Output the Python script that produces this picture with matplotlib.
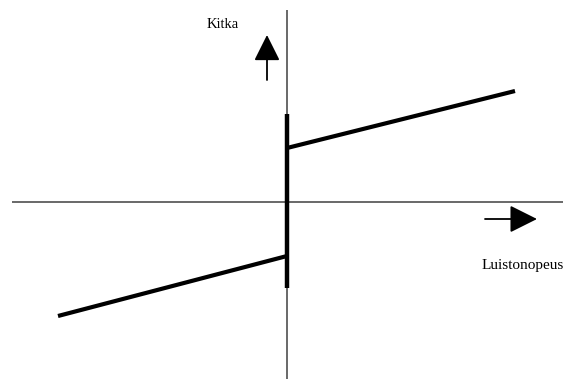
import matplotlib
matplotlib.use("Agg")
import matplotlib.pyplot as plt

# Data (origin at the axes crossing; units arbitrary, y positive up)
speed_neg = [-229, 0]
friction_neg = [-114, -54]
speed_pos = [0, 228]
friction_pos = [54, 111]
static_band = [-86, 88]   # vertical thick segment at zero speed

x_label = "Luistonopeus"
y_label = "Kitka"

fig = plt.figure(figsize=(5.66, 3.79), dpi=100)
ax = fig.add_axes([0, 0, 1, 1])
ox, oy = 287, 202
ax.set_xlim(-ox, 566 - ox)
ax.set_ylim(oy - 379, oy)
ax.axis("off")

# axes lines
ax.plot([-275, 276], [0, 0], color="#404040", lw=1.1, solid_capstyle="butt")
ax.plot([0, 0], [-177, 192], color="#404040", lw=1.1, solid_capstyle="butt")

# thick vertical static friction segment
ax.plot([0, 0], static_band, color="black", lw=3.2, solid_capstyle="butt")
# sliding friction lines
ax.plot(speed_neg, friction_neg, color="black", lw=3.0, solid_capstyle="butt")
ax.plot(speed_pos, friction_pos, color="black", lw=3.0, solid_capstyle="butt")

# arrows
ax.annotate("", xy=(-20, 167), xytext=(-20, 122),
            arrowprops=dict(arrowstyle="-|>,head_length=1.6,head_width=0.8",
                            color="black", lw=1.3, shrinkA=0, shrinkB=0))
ax.annotate("", xy=(250, -17), xytext=(198, -17),
            arrowprops=dict(arrowstyle="-|>,head_length=1.7,head_width=0.85",
                            color="black", lw=1.3, shrinkA=0, shrinkB=0))

ax.text(-64, 177, y_label, family="Liberation Serif", fontsize=10.5,
        ha="center", va="center")
ax.text(236, -63, x_label, family="Liberation Serif", fontsize=11,
        ha="center", va="center")

fig.savefig("out.png", dpi=100)
